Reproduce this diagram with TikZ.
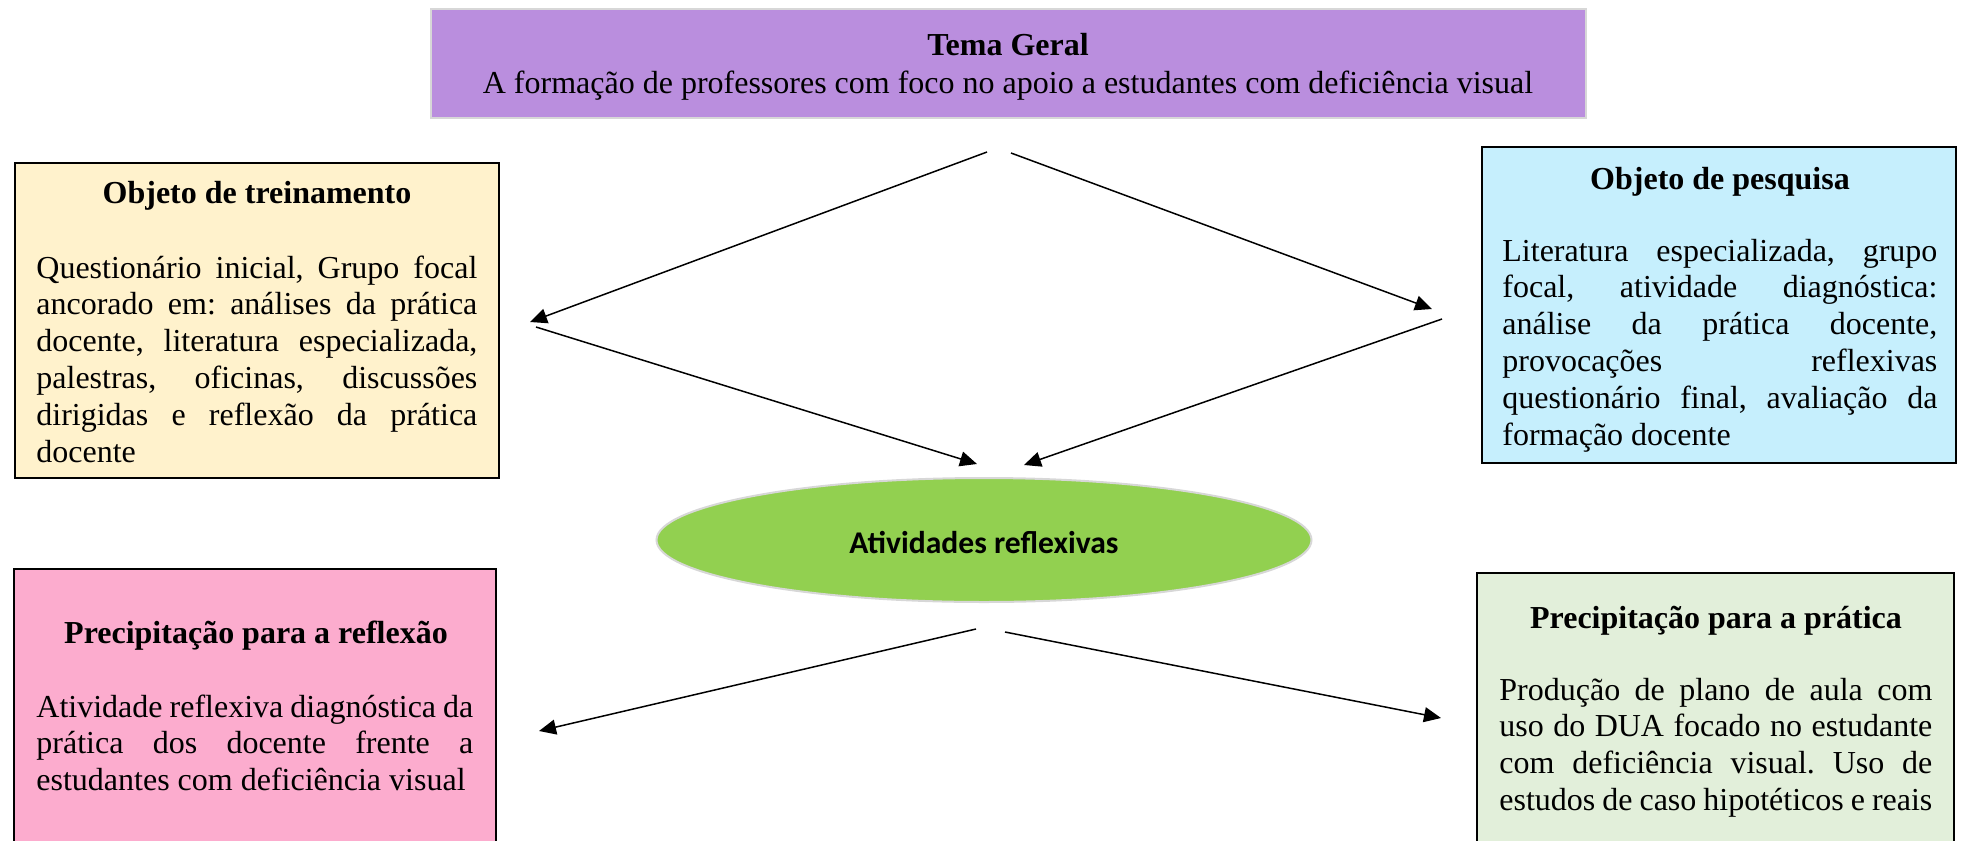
\documentclass[tikz,border=0pt]{standalone}
\usepackage{fontspec}
\setmainfont{Liberation Serif}
\newfontfamily\calibrifont{Carlito}
\usetikzlibrary{arrows.meta,shapes.geometric}
\definecolor{lavender}{RGB}{186,142,222}
\definecolor{cream}{RGB}{255,242,204}
\definecolor{skyb}{RGB}{198,239,253}
\definecolor{pinkb}{RGB}{252,172,206}
\definecolor{greenb}{RGB}{226,239,218}
\definecolor{lime}{RGB}{146,208,80}
\definecolor{lgray}{RGB}{215,215,215}
\newcommand\bodyset{\hyphenpenalty=10000 \exhyphenpenalty=10000 \emergencystretch=3em
  \frenchspacing\spaceskip=0.25em plus 1em minus 0.15em\relax\strut}
\tikzset{
  panel/.style={draw=black, line width=1pt, anchor=north west, inner sep=0pt, outer sep=0pt},
  ttl/.style={anchor=base, inner sep=0pt, font=\fontsize{16pt}{18.4pt}\selectfont\bfseries},
  body/.style={anchor=north west, inner sep=0pt, align=justify,
    font=\fontsize{16pt}{18.4pt}\selectfont},
  conn/.style={line width=0.75pt, -{Triangle[length=8.5pt,width=7.5pt]}}
}
\begin{document}
\begin{tikzpicture}[x=0.5pt,y=-0.5pt]
\useasboundingbox (0,0) rectangle (1966,841);
\clip (0,0) rectangle (1966,841);
% top box
\node[draw=lgray, line width=1.2pt, fill=lavender, anchor=north west, inner sep=0pt,
  minimum width=577.5pt, minimum height=54.75pt] (top) at (430,7.5) {};
\node[ttl] (toptitle) at (1008,55) {Tema Geral};
\node[anchor=base, inner sep=0pt, font=\fontsize{16pt}{18.4pt}\selectfont] (topline) at (1008,93)
  {A formação de professores com foco no apoio a estudantes com deficiência visual};
% left top box
\node[panel, fill=cream, minimum width=242pt, minimum height=157.5pt] (lbox) at (15,163) {};
\node[ttl] (ltitle) at (257,203) {Objeto de treinamento};
\node[body, text width=220.5pt] (lbody) at (36,252) {\bodyset Questionário inicial, Grupo focal\linebreak
ancorado em: análises da prática\linebreak
docente, literatura especializada,\linebreak
palestras, oficinas, discussões\linebreak
dirigidas e reflexão da prática\linebreak
docente};
% right top box
\node[panel, fill=skyb, minimum width=237pt, minimum height=158pt] (rbox) at (1482,147) {};
\node[ttl] (rtitle) at (1720,189) {Objeto de pesquisa};
\node[body, text width=217.5pt] (rbody) at (1502,235) {\bodyset Literatura especializada, grupo\linebreak
focal, atividade diagnóstica:\linebreak
análise da prática docente,\linebreak
provocações reflexivas\linebreak
questionário final, avaliação da\linebreak
formação docente};
% ellipse
\node[ellipse, draw=lgray, line width=1pt, fill=lime, minimum width=327.5pt, minimum height=62pt, inner sep=0pt]
  (mid) at (984,540) {};
\node[anchor=center, inner sep=0pt, font=\calibrifont\fontsize{15.8pt}{18pt}\selectfont\bfseries] (midtext) at (984,542) {Atividades reflexivas};
% bottom left box
\node[panel, fill=pinkb, minimum width=241pt, minimum height=150pt] (pbox) at (14,569) {};
\node[ttl] (ptitle) at (256,643) {Precipitação para a reflexão};
\node[body, text width=218.5pt] (pbody) at (36,691) {\bodyset Atividade reflexiva diagnóstica da\linebreak
prática dos docente frente a\linebreak
estudantes com deficiência visual};
% bottom right box
\node[panel, fill=greenb, minimum width=238.5pt, minimum height=150pt] (gbox) at (1477,573) {};
\node[ttl] (gtitle) at (1716,628) {Precipitação para a prática};
\node[body, text width=216.5pt] (gbody) at (1499,674) {\bodyset Produção de plano de aula com\linebreak
uso do DUA focado no estudante\linebreak
com deficiência visual. Uso de\linebreak
estudos de caso hipotéticos e reais};
% connector end points
\coordinate (a1s) at (987,152);  \coordinate (a1e) at (530,322);
\coordinate (a2s) at (1011,153); \coordinate (a2e) at (1432,309);
\coordinate (a3s) at (536,327);  \coordinate (a3e) at (977,464);
\coordinate (a4s) at (1442,319); \coordinate (a4e) at (1024,465);
\coordinate (a5s) at (976,629);  \coordinate (a5e) at (539,731);
\coordinate (a6s) at (1005,632); \coordinate (a6e) at (1441,718);
\draw[conn] (a1s) -- (a1e);
\draw[conn] (a2s) -- (a2e);
\draw[conn] (a3s) -- (a3e);
\draw[conn] (a4s) -- (a4e);
\draw[conn] (a5s) -- (a5e);
\draw[conn] (a6s) -- (a6e);
\end{tikzpicture}
\end{document}
